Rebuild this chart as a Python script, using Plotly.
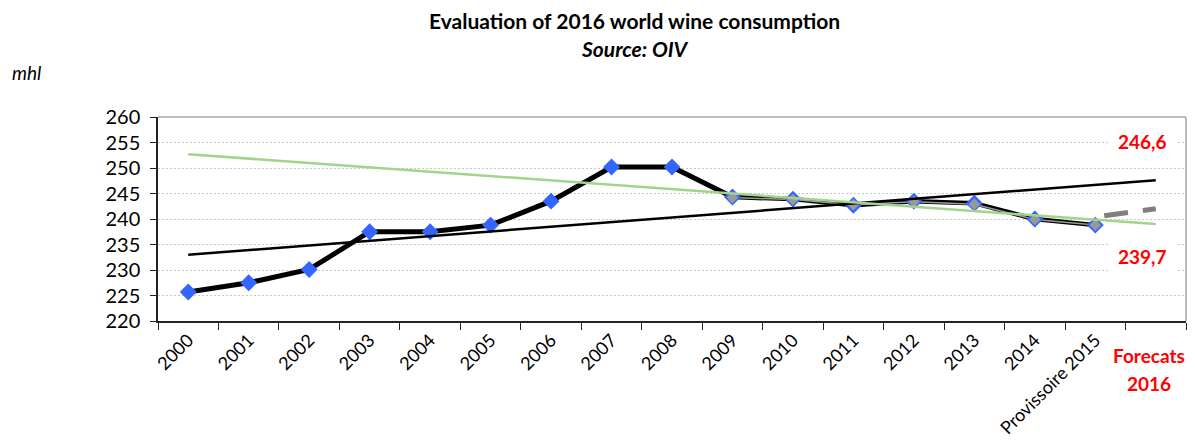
import plotly.graph_objects as go

# ---- data ----
categories = ["2000", "2001", "2002", "2003", "2004", "2005", "2006", "2007",
              "2008", "2009", "2010", "2011", "2012", "2013", "2014",
              "Provissoire 2015", "Forecats 2016"]
consumption = [225.7, 227.5, 230.1, 237.5, 237.5, 238.8, 243.5, 250.2,
               250.2, 244.3, 243.9, 242.7, 243.5, 243.1, 240.0, 238.8]
revised_idx = [9, 10, 11, 12, 13, 14, 15]
revised = [244.2, 243.8, 242.8, 243.4, 242.9, 239.9, 238.8]
forecast_idx = [15, 16]
forecast = [240.4, 242.0]
trend_up_idx = [0, 16]
trend_up = [233.0, 247.6]
trend_down_idx = [0, 16]
trend_down = [252.7, 239.0]
high_label = "246,6"
high_value = 255.1
low_label = "239,7"
low_value = 232.6
y_ticks = [220, 225, 230, 235, 240, 245, 250, 255, 260]

FONT = "Lato"
idx = list(range(len(categories)))

fig = go.Figure()

# main thick black line 2000-2009
fig.add_trace(go.Scatter(x=idx[:10], y=consumption[:10], mode="lines",
                         line=dict(color="black", width=5), hoverinfo="skip"))
# 2009-2015 black outline
fig.add_trace(go.Scatter(x=revised_idx, y=consumption[9:16], mode="lines",
                         line=dict(color="black", width=4.5), hoverinfo="skip"))
fig.add_trace(go.Scatter(x=revised_idx, y=revised, mode="lines",
                         line=dict(color="#9a9a9a", width=1.5), hoverinfo="skip"))
# blue markers
fig.add_trace(go.Scatter(x=idx[:16], y=consumption, mode="markers",
                         marker=dict(symbol="diamond", size=13, color="#3366ff",
                                     line=dict(width=0)), hoverinfo="skip"))
# gray markers for revised
fig.add_trace(go.Scatter(x=revised_idx, y=revised, mode="markers",
                         marker=dict(symbol="diamond", size=9, color="#999999",
                                     line=dict(width=0)), hoverinfo="skip"))
# forecast dashed
fig.add_trace(go.Scatter(x=forecast_idx, y=forecast, mode="lines",
                         line=dict(color="#7f7f7f", width=5,
                                   dash="0px,9px,24px,15px,14px,100px"),
                         hoverinfo="skip"))
# trend lines
fig.add_trace(go.Scatter(x=trend_up_idx, y=trend_up, mode="lines",
                         line=dict(color="black", width=2.5), hoverinfo="skip"))
fig.add_trace(go.Scatter(x=trend_down_idx, y=trend_down, mode="lines",
                         line=dict(color="#a3d48c", width=2.5), hoverinfo="skip"))

ticktext = categories[:-1] + [""]

fig.update_layout(
    width=1196, height=448,
    margin=dict(l=158, r=10, t=117, b=127),
    paper_bgcolor="white", plot_bgcolor="white",
    showlegend=False,
    font=dict(family=FONT, size=18, color="black"),
    xaxis=dict(range=[-0.5, 16.5], tickmode="array", tickvals=idx,
               ticktext=ticktext, tickangle=-45, ticks="", showgrid=False,
               zeroline=False, showline=True, linecolor="#222222", linewidth=1.5,
               tickfont=dict(family=FONT, size=18),
               minor=dict(ticks="outside", tick0=-0.5, dtick=1, ticklen=7,
                          tickcolor="#222222", tickwidth=1.2, showgrid=False)),
    yaxis=dict(range=[220, 260], tickmode="array", tickvals=y_ticks,
               ticks="outside", ticklen=6, tickcolor="#222222", tickwidth=1.2,
               ticklabelstandoff=6,
               showline=True, linecolor="#222222", linewidth=1.5,
               showgrid=True, gridcolor="#c8c8c8", gridwidth=1,
               griddash="2px,2px",
               zeroline=False, tickfont=dict(family=FONT, size=20)),
    shapes=[
        dict(type="line", xref="paper", yref="paper", x0=0, x1=1, y0=1, y1=1,
             line=dict(color="#a6a6a6", width=1.5)),
        dict(type="line", xref="paper", yref="paper", x0=1, x1=1, y0=0, y1=1,
             line=dict(color="#a6a6a6", width=1.5)),
    ],
    annotations=[
        dict(text="<b>Evaluation of 2016 world wine consumption</b>",
             xref="paper", yref="paper", x=0.464, y=1.475, showarrow=False,
             xanchor="center", yanchor="middle",
             font=dict(family=FONT, size=21, color="black")),
        dict(text="<b><i>Source: OIV</i></b>",
             xref="paper", yref="paper", x=0.464, y=1.337, showarrow=False,
             xanchor="center", yanchor="middle",
             font=dict(family=FONT, size=21, color="black")),
        dict(text="<i>mhl</i>", xref="paper", yref="paper", x=-0.144, y=1.216,
             showarrow=False, xanchor="left", yanchor="middle",
             font=dict(family=FONT, size=19, color="black")),
        dict(text="<b>%s</b>" % high_label, x=15.78, y=high_value, showarrow=False,
             xanchor="center", yanchor="middle", bgcolor="white", borderpad=9,
             font=dict(family=FONT, size=19, color="#ff0000")),
        dict(text="<b>%s</b>" % low_label, x=15.78, y=low_value, showarrow=False,
             xanchor="center", yanchor="middle", bgcolor="white", borderpad=9,
             font=dict(family=FONT, size=19, color="#ff0000")),
        dict(text="<b>Forecats</b>", x=15.88, xref="x", yref="paper", y=-0.167,
             showarrow=False, xanchor="center", yanchor="middle",
             font=dict(family=FONT, size=19, color="#ff0000")),
        dict(text="<b>2016</b>", x=15.88, xref="x", yref="paper", y=-0.304,
             showarrow=False, xanchor="center", yanchor="middle",
             font=dict(family=FONT, size=19, color="#ff0000")),
    ],
)

fig.write_html("out.html")
